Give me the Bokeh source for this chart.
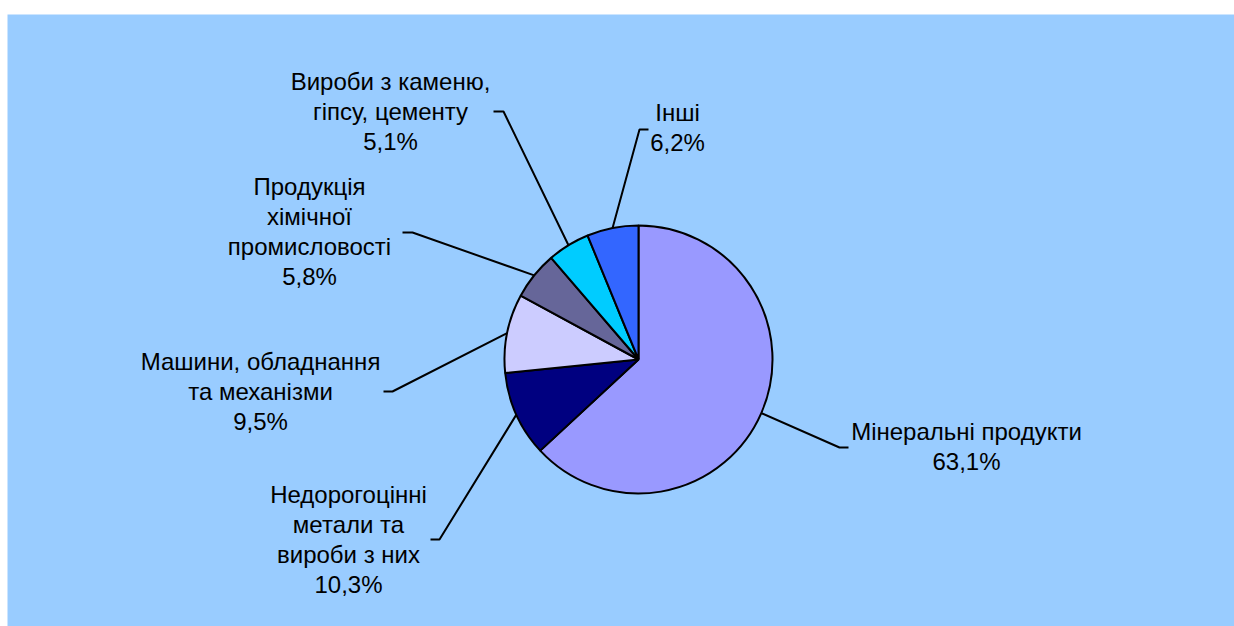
import math
from bokeh.plotting import figure
from bokeh.models import Range1d, ColumnDataSource
from bokeh.core.properties import value
from bokeh.embed import file_html
from bokeh.resources import INLINE

# ---- data ----
categories = [
    "Мінеральні продукти",
    "Недорогоцінні\nметали та\nвироби з них",
    "Машини, обладнання\nта механізми",
    "Продукція\nхімічної\nпромисловості",
    "Вироби з каменю,\nгіпсу, цементу",
    "Інші",
]
shares = [63.1, 10.3, 9.5, 5.8, 5.1, 6.2]
colors = ["#9999FF", "#000080", "#CCCCFF", "#666699", "#00CCFF", "#3366FF"]
pct_labels = ["63,1%", "10,3%", "9,5%", "5,8%", "5,1%", "6,2%"]

# ---- layout (page pixel coordinates; data y = 626 - page y) ----
W, H = 1234, 626
def Y(py):
    return 626 - py

cx, cy, r = 638, Y(359), 134
# label block centres and leader elbows (layout positions)
label_pos = [(966, 446), (348, 539), (260, 391), (309, 231), (390, 111), (677, 127)]
elbows = [((839, 447), (848, 447)), ((439, 539), (430, 539)), ((392, 391), (383, 391)),
          ((412, 232), (402, 232)), ((503, 111), (493, 111)), ((639, 129), (648, 129))]

p = figure(width=W, height=H, output_backend="svg", toolbar_location=None,
           x_range=Range1d(7, 1234), y_range=Range1d(0, 612),
           min_border_left=7, min_border_right=0, min_border_bottom=0, min_border_top=14,
           border_fill_color="white", background_fill_color="#99CCFF",
           outline_line_color=None)
p.xaxis.visible = False
p.yaxis.visible = False
p.xgrid.visible = False
p.ygrid.visible = False

total = sum(shares)
starts, ends, mids = [], [], []
cum = 0.0
for s in shares:
    a_start = 90 - (cum + s) / total * 360
    a_end = 90 - cum / total * 360
    starts.append(a_start)
    ends.append(a_end)
    mids.append((a_start + a_end) / 2)
    cum += s

src = ColumnDataSource(dict(start=starts, end=ends, color=colors))
p.wedge(x=cx, y=cy, radius=r, start_angle="start", end_angle="end",
        start_angle_units="deg", end_angle_units="deg", direction="anticlock",
        fill_color="color", line_color="black", line_width=2, source=src)

# leader lines
xs, ys = [], []
for m, (e1, e2) in zip(mids, elbows):
    a = math.radians(m)
    x0 = cx + r * math.cos(a)
    y0 = cy + r * math.sin(a)
    xs.append([x0, e1[0], e2[0]])
    ys.append([y0, Y(e1[1]), Y(e2[1])])
p.multi_line(xs=xs, ys=ys, line_color="black", line_width=2)

texts = [c + "\n" + pl for c, pl in zip(categories, pct_labels)]
tsrc = ColumnDataSource(dict(x=[lp[0] for lp in label_pos], y=[Y(lp[1]) for lp in label_pos], t=texts))
p.text(x="x", y="y", text="t", source=tsrc, text_align="center", text_baseline="middle",
       text_font=value("Liberation Sans"), text_font_size="24px", text_color="black",
       text_line_height=1.1)

open("out.html", "w").write(file_html(p, INLINE))
